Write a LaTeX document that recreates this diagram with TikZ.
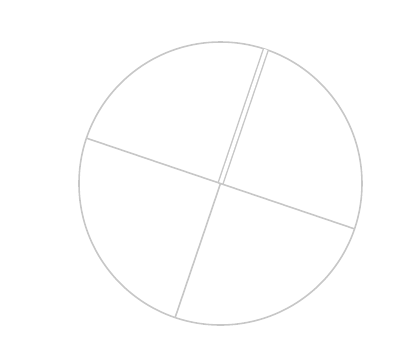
\documentclass[tikz,border=0pt]{standalone}
\usepackage{tikz}
\usetikzlibrary{calc}

\begin{document}
\begin{tikzpicture}[
    x=0.01cm, y=0.01cm,
    rim/.style={draw=black!22, line width=0.45pt},
    spoke/.style={draw=black!22, line width=0.45pt},
    twin/.style={draw=black!22, line width=0.4pt, double=white, double distance=1pt}
]
    \useasboundingbox (0,0) rectangle (399,341);
    \coordinate (centre) at (220.5,157.5);
    \def\radius{141.5}
    \def\tilt{-18.7}

    % wheel and its diameters
    \draw[rim] (centre) circle (\radius);
    \coordinate (top)    at ($(centre)+(\tilt+90:\radius)$);
    \coordinate (bottom) at ($(centre)+(\tilt+270:\radius)$);
    \coordinate (left)   at ($(centre)+(\tilt+180:\radius)$);
    \coordinate (right)  at ($(centre)+(\tilt:\radius)$);

    \draw[twin] (centre) -- (top);
    \draw[spoke] (centre) -- (bottom);
    \draw[spoke] (left) -- (right);
\end{tikzpicture}
\end{document}
